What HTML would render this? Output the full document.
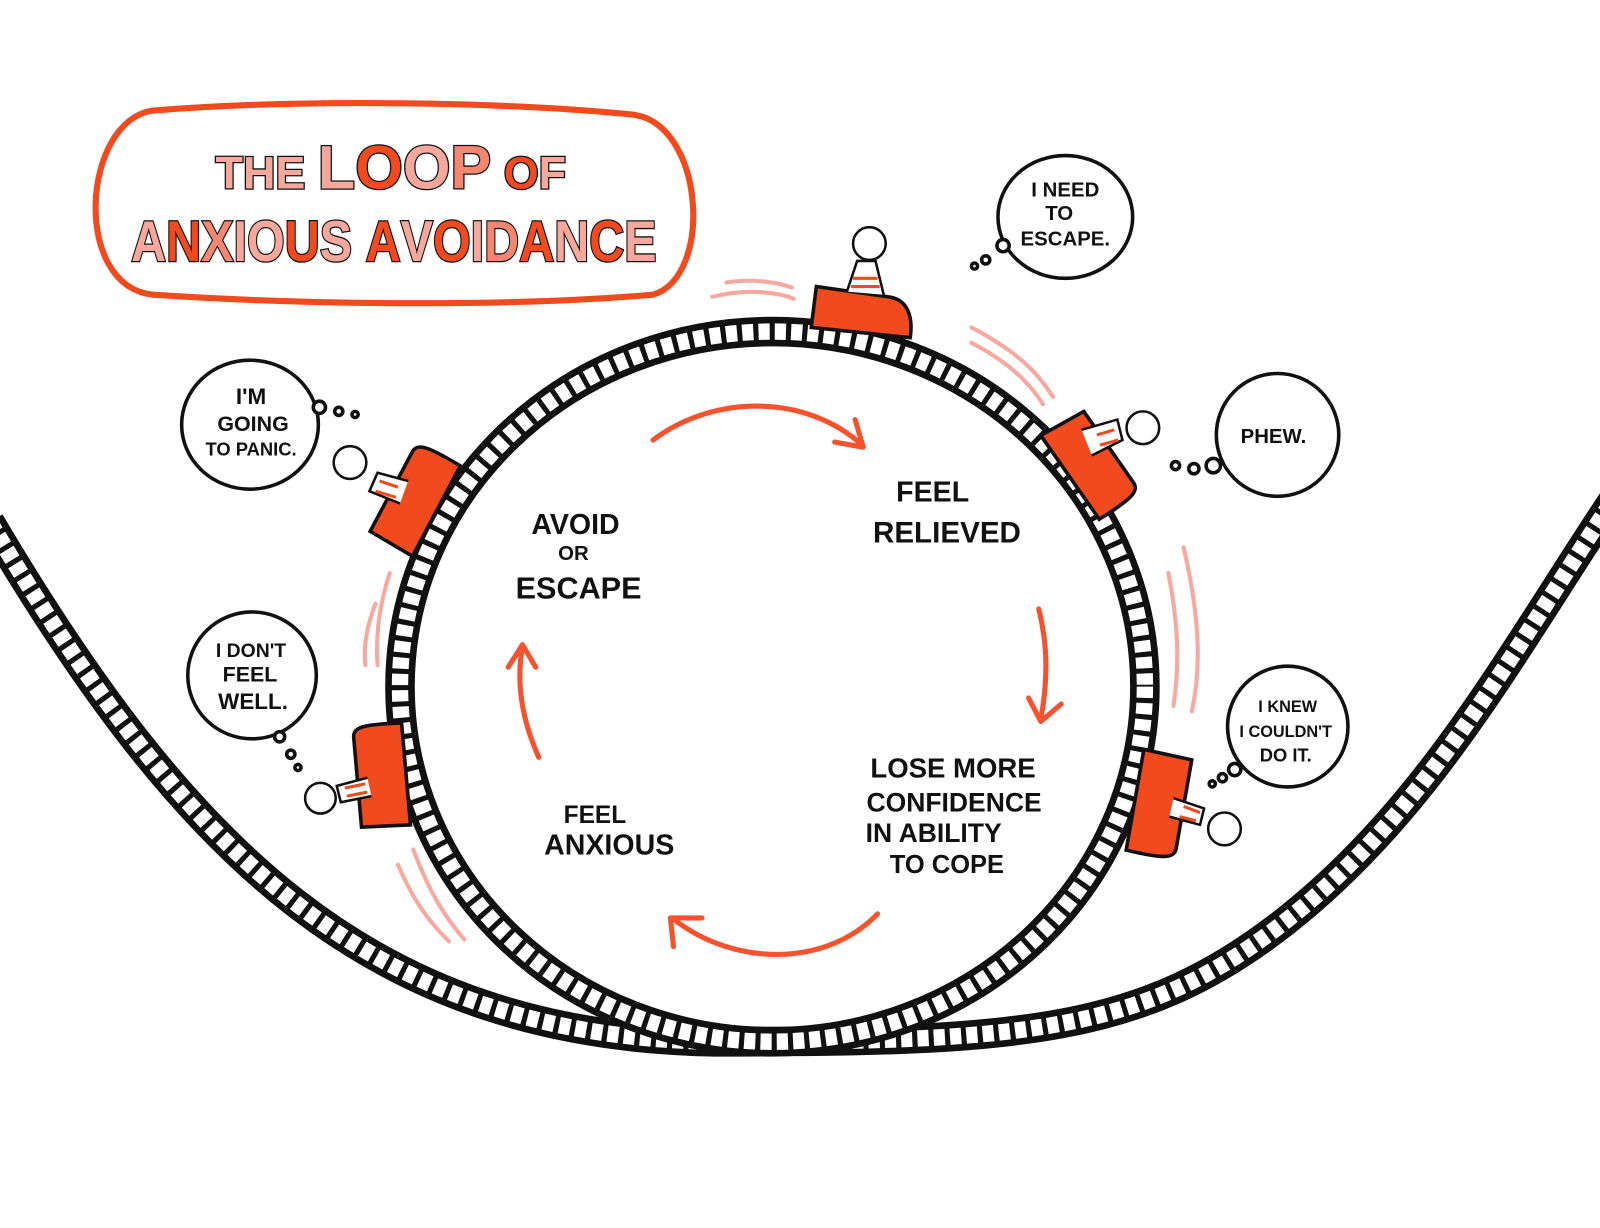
<!DOCTYPE html>
<html><head><meta charset="utf-8"><style>
html,body{margin:0;padding:0;background:#fff;width:1600px;height:1228px;overflow:hidden}
svg{display:block}
.t{font-family:"Liberation Sans",sans-serif;font-weight:bold;fill:#111}
.ti{font-family:"Liberation Sans",sans-serif;font-weight:bold;stroke:#111;stroke-width:2.5;paint-order:stroke}
</style></head><body>
<svg width="1600" height="1228" viewBox="0 0 1568 1200" preserveAspectRatio="none" xmlns="http://www.w3.org/2000/svg">
<!-- title -->
<path d="M150 108 C300 96 500 100 620 112 C690 120 700 270 640 288 C500 300 300 298 150 288 C70 280 80 118 150 108Z" fill="none" stroke="#f04a1e" stroke-width="6"/>
<text class="ti" x="383" y="184" text-anchor="middle" font-size="50"><tspan fill="#f7a89c" font-size="44">THE </tspan><tspan fill="#f7a89c" font-size="60">L</tspan><tspan fill="#f04a1e" font-size="60">O</tspan><tspan fill="#f7a89c" font-size="60">O</tspan><tspan fill="#f58772" font-size="60">P</tspan><tspan fill="#f04a1e" font-size="44"> O</tspan><tspan fill="#f7a89c" font-size="44">F</tspan></text>
<text class="ti" x="386" y="255" text-anchor="middle" font-size="56" textLength="515" lengthAdjust="spacingAndGlyphs"><tspan fill="#f7a89c">A</tspan><tspan fill="#f04a1e">N</tspan><tspan fill="#f58772">X</tspan><tspan fill="#f7a89c">IO</tspan><tspan fill="#f04a1e">U</tspan><tspan fill="#f7a89c">S </tspan><tspan fill="#f04a1e">A</tspan><tspan fill="#f7a89c">V</tspan><tspan fill="#f04a1e">O</tspan><tspan fill="#f7a89c">I</tspan><tspan fill="#f58772">D</tspan><tspan fill="#f04a1e">A</tspan><tspan fill="#f7a89c">N</tspan><tspan fill="#f04a1e">C</tspan><tspan fill="#f7a89c">E</tspan></text>

<!-- U track -->
<path d="M-10 510 C180 830 360 1012 700 1018 C1000 1018 1120 1010 1260 900 C1400 790 1480 640 1580 490" fill="none" stroke="#111" stroke-width="29"/>
<path d="M-10 510 C180 830 360 1012 700 1018 C1000 1018 1120 1010 1260 900 C1400 790 1480 640 1580 490" fill="none" stroke="#fff" stroke-width="16" stroke-dasharray="11 5"/>
<!-- loop -->
<ellipse cx="757" cy="671" rx="365" ry="347" fill="none" stroke="#111" stroke-width="29"/>
<ellipse cx="757" cy="671" rx="365" ry="347" fill="none" stroke="#fff" stroke-width="16" stroke-dasharray="11 5"/>

<!-- motion lines -->
<g fill="none" stroke="#f6a9a0" stroke-width="4" stroke-linecap="round">
<path d="M698 290 C730 282 760 285 778 292"/><path d="M712 276 C740 272 762 276 776 281"/>
<path d="M952 320 C990 340 1015 360 1032 388"/><path d="M952 335 C985 352 1008 372 1022 395"/>
<path d="M1160 535 C1175 600 1178 650 1168 695"/><path d="M1145 560 C1155 610 1156 650 1150 690"/>
<path d="M382 560 C372 590 368 620 370 650"/><path d="M368 590 C360 610 356 630 358 650"/>
<path d="M390 845 C405 880 420 900 440 920"/><path d="M405 830 C420 870 435 895 455 918"/>
</g>

<!-- cars -->
<g stroke="#111" stroke-width="3.5" fill="#f04a1e">
<path d="M800 280 L870 290 C890 292 895 310 892 330 L795 320Z"/>
<g transform="translate(1065 455) rotate(55)"><path d="M-45 -28 L40 -28 C50 -28 52 -18 50 20 L-50 20Z"/></g>
<g transform="translate(410 490) rotate(-62)"><path d="M-48 -28 L40 -28 C50 -28 52 -18 50 20 L-50 20Z"/></g>
<g transform="translate(378 758) rotate(-95)"><path d="M-48 -28 L40 -28 C50 -28 52 -18 50 20 L-50 20Z"/></g>
<g transform="translate(1132 785) rotate(100)"><path d="M-48 -28 L40 -28 C50 -28 52 -18 50 20 L-50 20Z"/></g>
</g>
<!-- figures -->
<g stroke="#111" stroke-width="2.5" fill="#fff">
<path d="M830 285 L840 255 L858 255 L866 288" /><circle cx="852" cy="238" r="16"/>
<path d="M1060 420 L1095 410 L1100 430 L1070 445"/><circle cx="1120" cy="418" r="16"/>
<path d="M400 470 L370 462 L362 480 L392 492"/><circle cx="343" cy="452" r="16"/>
<path d="M360 760 L330 768 L334 784 L364 778"/><circle cx="314" cy="780" r="15"/>
<path d="M1150 780 L1180 790 L1176 806 L1146 798"/><circle cx="1200" cy="810" r="16"/>
</g>
<g stroke="#f04a1e" stroke-width="3">
<path d="M836 272 H860 M834 280 H862"/><path d="M1075 425 L1092 420 M1078 435 L1096 430"/>
<path d="M372 470 L390 476 M368 480 L388 486"/><path d="M338 770 L358 766 M340 778 L360 774"/>
<path d="M1160 788 L1176 794 M1156 798 L1172 802"/>
</g>

<!-- thought bubbles -->
<g fill="#fff" stroke="#111" stroke-width="3.5">
<ellipse cx="1044" cy="212" rx="66" ry="60"/>
<circle cx="1252" cy="425" r="60"/>
<circle cx="1262" cy="710" r="59"/>
<ellipse cx="245" cy="415" rx="67" ry="63"/>
<ellipse cx="247" cy="660" rx="63" ry="62"/>
<circle cx="983" cy="240" r="6"/><circle cx="966" cy="254" r="4"/><circle cx="955" cy="260" r="3"/>
<circle cx="1189" cy="455" r="7"/><circle cx="1170" cy="458" r="5"/><circle cx="1152" cy="455" r="4"/>
<circle cx="1210" cy="752" r="6"/><circle cx="1198" cy="760" r="4"/><circle cx="1188" cy="766" r="3"/>
<circle cx="313" cy="398" r="6"/><circle cx="332" cy="402" r="4"/><circle cx="348" cy="405" r="3"/>
<circle cx="274" cy="720" r="5"/><circle cx="285" cy="737" r="4"/><circle cx="292" cy="750" r="3"/>
</g>
<g class="t" text-anchor="middle">
<text x="1044" y="192" font-size="20">I NEED</text><text x="1038" y="215" font-size="20">TO</text><text x="1044" y="240" font-size="20">ESCAPE.</text>
<text x="1248" y="433" font-size="20">PHEW.</text>
<text x="1262" y="696" font-size="16">I KNEW</text><text x="1260" y="720" font-size="16">I COULDN'T</text><text x="1260" y="744" font-size="18">DO IT.</text>
<text x="246" y="395" font-size="22">I'M</text><text x="248" y="421" font-size="21">GOING</text><text x="246" y="445" font-size="18">TO PANIC.</text>
<text x="246" y="642" font-size="19">I DON'T</text><text x="245" y="666" font-size="21">FEEL</text><text x="248" y="693" font-size="22">WELL.</text>
</g>

<!-- cycle arrows -->
<g fill="none" stroke="#f5532e" stroke-width="5" stroke-linecap="round" stroke-linejoin="round">
<path d="M640 430 C700 385 790 385 845 435"/><path d="M818 432 L846 437 L838 410"/>
<path d="M1018 595 C1028 635 1026 670 1020 703"/><path d="M1008 682 L1020 705 L1040 688"/>
<path d="M860 893 C810 945 720 945 660 898"/><path d="M660 925 L657 897 L688 897"/>
<path d="M528 740 C510 700 506 665 512 632"/><path d="M498 652 L512 630 L525 652"/>
</g>

<!-- cycle labels -->
<g class="t" text-anchor="middle">
<text x="564" y="522" font-size="28">AVOID</text><text x="562" y="547" font-size="20">OR</text><text x="567" y="585" font-size="30">ESCAPE</text>
<text x="914" y="490" font-size="28">FEEL</text><text x="928" y="530" font-size="29">RELIEVED</text>
<text x="934" y="760" font-size="27">LOSE MORE</text><text x="935" y="793" font-size="26">CONFIDENCE</text><text x="915" y="823" font-size="26">IN ABILITY</text><text x="928" y="853" font-size="25">TO COPE</text>
<text x="583" y="804" font-size="24">FEEL</text><text x="597" y="835" font-size="28">ANXIOUS</text>
</g>
</svg>
</body></html>
